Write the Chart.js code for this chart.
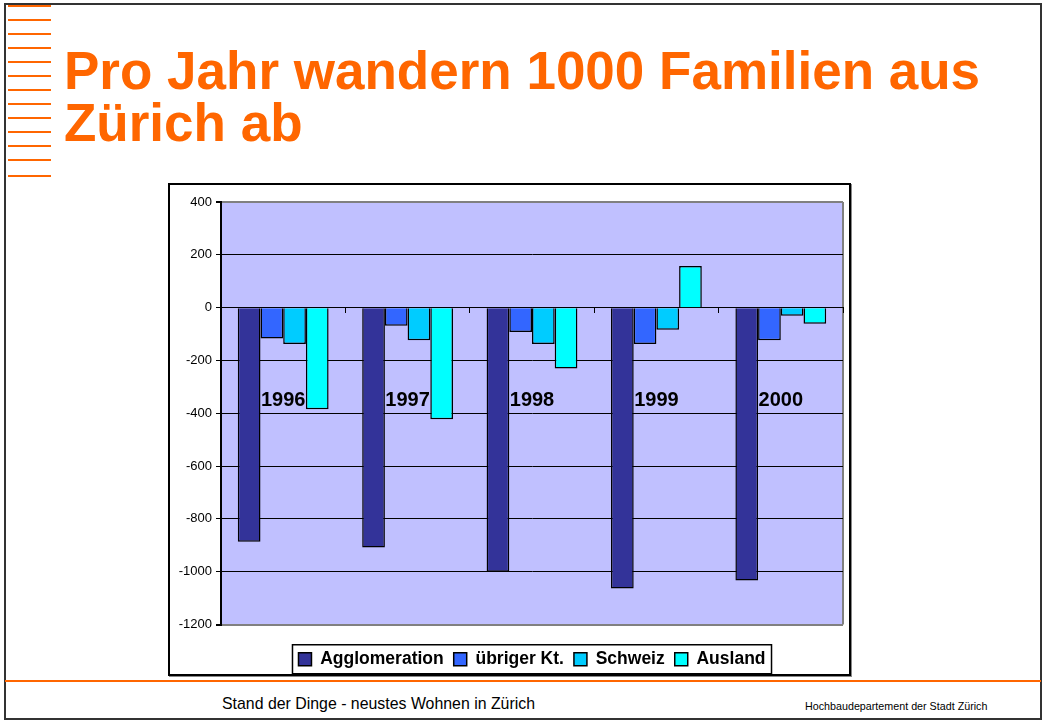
<!DOCTYPE html>
<html><head><meta charset="utf-8">
<script src="https://cdn.jsdelivr.net/npm/chart.js@4.4.1/dist/chart.umd.min.js"></script>
<style>
body{margin:0;width:1043px;height:722px;background:#fff;position:relative;overflow:hidden;font-family:"Liberation Sans",Arial,sans-serif;}
#frame{position:absolute;left:4px;top:3px;width:1034px;height:713px;border:2px solid #333;}
.ol{position:absolute;left:8px;width:43px;height:2px;background:#FF6600;}
#title{position:absolute;left:64px;top:45px;font-weight:bold;font-size:53px;line-height:52px;color:#FF6600;white-space:nowrap;}
#box{position:absolute;left:168px;top:183px;width:679px;height:489px;border:2px solid #000;background:#fff;box-shadow:1px 1px 0 #888;}
#box canvas{position:absolute;left:0;top:0;}
#fline{position:absolute;left:5px;top:680px;width:1036px;height:2px;background:#FF6600;}
#f1{position:absolute;left:222px;top:695px;font-size:17px;line-height:17px;color:#000;white-space:nowrap;transform:scaleX(0.934);transform-origin:0 0;}
#f2{position:absolute;left:805px;top:701px;font-size:11px;line-height:11px;color:#000;white-space:nowrap;transform:scaleX(0.975);transform-origin:0 0;}
</style>
</head>
<body>
<div id="frame"></div>
<div id="lines"></div>
<div id="title">Pro Jahr wandern 1000 Familien aus<br>Zürich ab</div>
<div id="box"><canvas id="c" width="679" height="493"></canvas></div>
<div id="fline"></div>
<div id="f1">Stand der Dinge - neustes Wohnen in Zürich</div>
<div id="f2">Hochbaudepartement der Stadt Zürich</div>
<script>
// decorative orange lines at left
const lineYs = [6,20,34,48,62,76,90,104,118,132,146,160,176];
const linesDiv = document.getElementById('lines');
lineYs.forEach(y => { const d = document.createElement('div'); d.className = 'ol'; d.style.top = (y - 1) + 'px'; linesDiv.appendChild(d); });

// DATA
const years = ['1996', '1997', '1998', '1999', '2000'];
const agglomeration = [-887, -908, -1000, -1064, -1033];
const uebrigerKt = [-117, -69, -92, -138, -124];
const schweiz = [-138, -124, -138, -84, -31];
const ausland = [-385, -423, -231, 158, -61];
const seriesNames = ['Agglomeration', 'übriger Kt.', 'Schweiz', 'Ausland'];
const yMin = -1200, yMax = 400, yStep = 200;

const FONT = '"Liberation Sans", Arial, sans-serif';
Chart.defaults.font.family = FONT;
Chart.defaults.color = '#000';

const plotBg = {
  id: 'plotBg',
  beforeDraw(c) {
    const {ctx, chartArea: a} = c;
    ctx.save();
    ctx.fillStyle = '#C0C0FF';
    ctx.fillRect(a.left, a.top, a.right - a.left, a.bottom - a.top);
    ctx.strokeStyle = '#808080';
    ctx.lineWidth = 2;
    ctx.beginPath();
    ctx.moveTo(a.right, a.top);
    ctx.lineTo(a.right, a.bottom);
    ctx.stroke();
    ctx.restore();
  }
};
const legendBox = {
  id: 'legendBox',
  afterDraw(c) {
    const hb = c.legend && c.legend.legendHitBoxes;
    if (!hb || !hb.length) return;
    const minL = Math.min(...hb.map(h => h.left));
    const maxR = Math.max(...hb.map(h => h.left + h.width));
    const cy = hb[0].top + hb[0].height / 2;
    const {ctx} = c;
    ctx.save();
    ctx.strokeStyle = '#000';
    ctx.lineWidth = 1.5;
    ctx.strokeRect(minL - 6, cy - 14.5, maxR - minL + 12, 29);
    ctx.restore();
  }
};

const colors = ['#333399', '#3366FF', '#00CCFF', '#00FFFF'];
const values = [agglomeration, uebrigerKt, schweiz, ausland];

new Chart(document.getElementById('c'), {
  type: 'bar',
  data: {
    labels: years,
    datasets: seriesNames.map((n, i) => ({
      label: n, data: values[i], backgroundColor: colors[i],
      borderColor: '#000', borderWidth: 1.5,
      categoryPercentage: 0.73, barPercentage: 1
    }))
  },
  options: {
    responsive: false, animation: false,
    layout: {padding: {left: 0, top: 17, right: 6, bottom: 0}},
    scales: {
      x: {
        position: {y: 0},
        afterFit(s) { s.paddingLeft = 0; s.paddingRight = 0; },
        grid: {offset: true, drawOnChartArea: false, tickLength: 5, color: '#000', tickColor: '#000'},
        border: {display: true, color: '#000', width: 1},
        ticks: {padding: 76, color: '#000', maxRotation: 0, font: {size: 20, weight: 'bold'}}
      },
      y: {
        min: yMin, max: yMax,
        afterFit(s) { s.width = 51; },
        ticks: {stepSize: yStep, padding: 4, color: '#000', font: {size: 13}, callback: v => String(v)},
        grid: {
          color: ctx => (ctx.tick && (ctx.tick.value === yMax || ctx.tick.value === yMin)) ? '#808080' : '#000',
          lineWidth: ctx => (ctx.tick && (ctx.tick.value === yMax || ctx.tick.value === yMin)) ? 2 : 1,
          tickColor: '#000', tickLength: 5
        },
        border: {display: true, color: '#000', width: 2}
      }
    },
    plugins: {
      legend: {
        position: 'bottom', fullSize: false,
        title: {display: true, text: ' ', font: {size: 2, lineHeight: 1}, padding: {top: 14, bottom: 0}},
        labels: {boxWidth: 13, boxHeight: 13, padding: 10, color: '#000', font: {size: 17.5, weight: 'bold'}}
      },
      tooltip: {enabled: false}
    }
  },
  plugins: [plotBg, legendBox]
});
</script>
</body></html>
